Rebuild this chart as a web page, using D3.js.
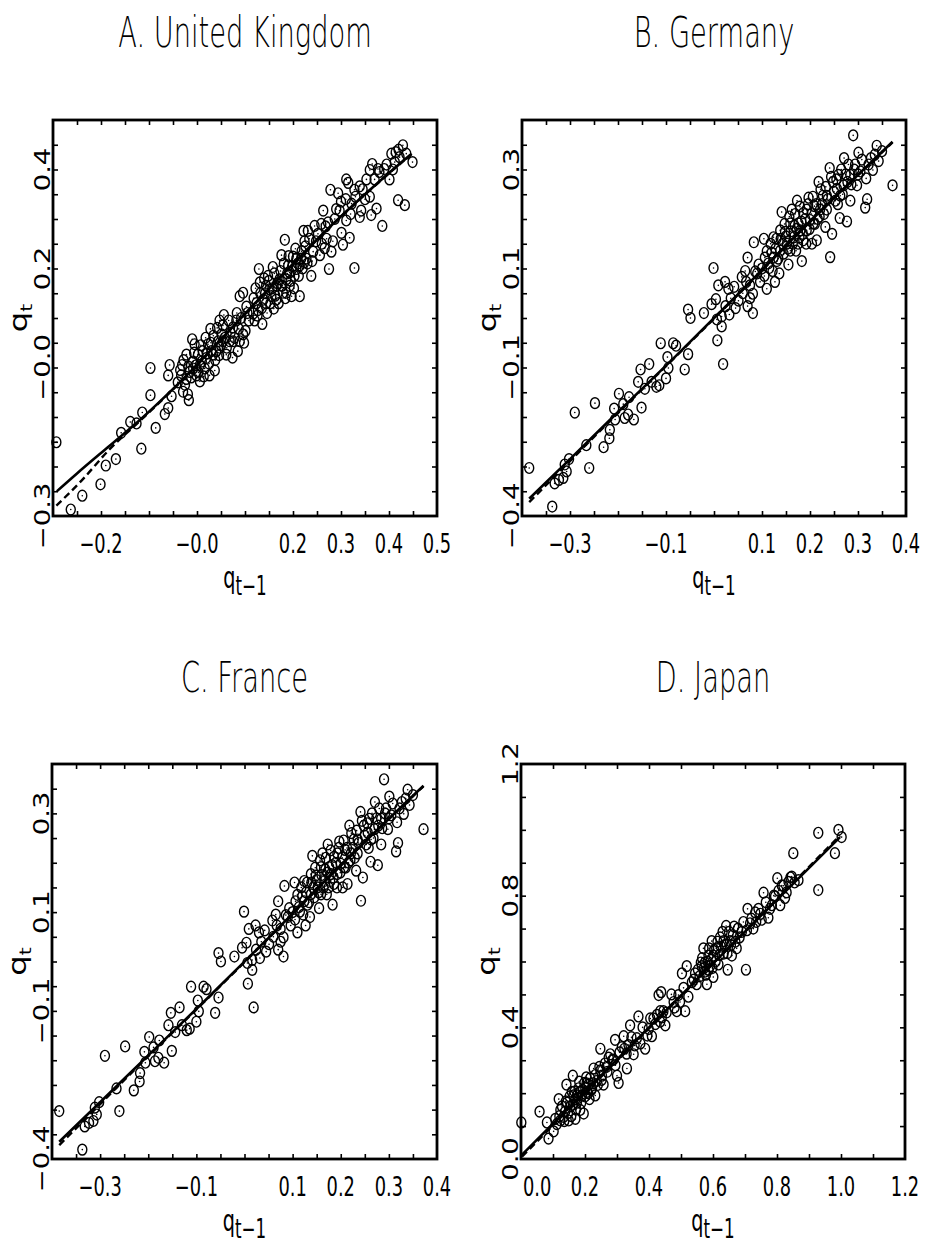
<!DOCTYPE html>
<html>
<head>
<meta charset="utf-8">
<script src="https://cdn.jsdelivr.net/npm/d3@7"></script>
<style>
  body { margin: 0; background: #fff; }
  text { font-family: "DejaVu Sans", sans-serif; fill: #000; }
</style>
</head>
<body>
<svg id="chart" width="925" height="1253"></svg>
<script>
// scatter points [q(t-1), q(t)]
const ukPoints = [
  [-0.293,-0.151],[-0.263,-0.287],[-0.239,-0.259],[-0.201,-0.236],[-0.190,-0.198],[-0.169,-0.185],
  [-0.158,-0.132],[-0.139,-0.110],[-0.126,-0.113],[-0.114,-0.091],[-0.116,-0.164],[-0.097,-0.001],
  [-0.097,-0.056],[-0.086,-0.122],[-0.067,-0.094],[-0.060,-0.082],[-0.060,-0.016],[-0.057,0.005],
  [-0.053,-0.058],[-0.029,-0.049],[-0.019,-0.054],[-0.017,-0.066],[-0.031,0.005],[-0.033,-0.016],
  [-0.022,-0.023],[-0.022,0.026],[-0.010,0.057],[-0.008,0.012],[-0.001,-0.016],[0.006,-0.028],
  [0.002,0.026],[0.012,0.033],[0.016,-0.002],[0.023,0.047],[0.028,0.078],[0.033,0.026],
  [0.037,-0.006],[0.044,0.053],[0.047,0.095],[0.051,0.067],[0.056,0.106],[0.061,0.026],
  [0.068,0.053],[0.074,0.020],[0.075,0.081],[0.082,0.095],[0.085,0.033],[0.089,0.053],
  [0.096,0.067],[0.101,0.074],[0.089,0.144],[0.096,0.151],[0.103,0.123],[0.108,0.095],
  [0.120,0.095],[0.124,0.130],[0.129,0.199],[0.131,0.172],[0.136,0.088],[0.138,0.137],
  [0.144,0.165],[0.148,0.185],[0.155,0.144],[0.158,0.203],[0.160,0.119],[0.165,0.165],
  [0.172,0.178],[0.176,0.227],[0.179,0.151],[0.183,0.258],[0.186,0.178],[0.190,0.206],
  [0.193,0.165],[0.197,0.144],[0.200,0.224],[0.203,0.185],[0.207,0.199],[0.214,0.144],
  [0.217,0.220],[0.222,0.276],[0.224,0.255],[0.228,0.220],[0.231,0.276],[0.238,0.185],
  [0.242,0.234],[0.245,0.286],[0.256,0.227],[0.259,0.290],[0.263,0.317],[0.266,0.241],
  [0.273,0.293],[0.275,0.199],[0.278,0.359],[0.280,0.234],[0.283,0.255],[0.287,0.300],
  [0.294,0.352],[0.297,0.317],[0.301,0.272],[0.304,0.248],[0.311,0.380],[0.315,0.373],
  [0.311,0.297],[0.318,0.262],[0.322,0.331],[0.328,0.359],[0.328,0.201],[0.339,0.366],
  [0.339,0.304],[0.342,0.317],[0.353,0.380],[0.360,0.399],[0.360,0.345],[0.365,0.411],
  [0.363,0.308],[0.374,0.321],[0.377,0.401],[0.386,0.286],[0.390,0.401],[0.401,0.380],
  [0.405,0.432],[0.412,0.415],[0.414,0.435],[0.419,0.338],[0.422,0.425],[0.429,0.449],
  [0.433,0.328],[0.436,0.432],[0.449,0.415],
  [0.006,0.005],[0.019,0.019],[0.030,0.033],[0.040,0.033],[0.054,0.053],[0.075,0.053],
  [0.117,0.109],[0.127,0.116],[0.144,0.130],[0.151,0.158],[0.165,0.137],[0.176,0.165],
  [0.186,0.151],[0.193,0.192],[0.207,0.220],[0.214,0.206],[0.224,0.213],[-0.008,-0.002],
  [-0.015,-0.009],[0.026,-0.016],[0.047,0.040],[-0.005,0.047],
  // dense lower cluster
  [-0.040,-0.030],[-0.035,-0.005],[-0.028,0.015],[-0.025,-0.035],[-0.018,0.002],[-0.012,-0.020],
  [-0.006,0.030],[-0.003,0.004],[0.003,-0.010],[0.008,0.045],[0.010,0.012],[0.014,-0.018],
  [0.018,0.060],[0.021,0.028],[0.025,0.008],[0.029,0.050],[0.034,0.064],[0.038,0.015],
  [0.042,0.080],[0.046,0.025],[0.050,0.045],[0.054,0.085],[0.058,0.060],[0.062,0.040],
  [0.066,0.095],[0.070,0.070],[0.078,0.060],[0.083,0.110],[0.087,0.078],[0.092,0.100],
  [0.098,0.050],[0.105,0.110],
  // dense upper cluster
  [0.118,0.140],[0.122,0.160],[0.126,0.105],[0.132,0.150],[0.135,0.120],[0.140,0.180],
  [0.142,0.150],[0.146,0.110],[0.150,0.175],[0.153,0.130],[0.157,0.160],[0.161,0.190],
  [0.163,0.145],[0.168,0.170],[0.170,0.130],[0.174,0.195],[0.178,0.165],[0.181,0.210],
  [0.184,0.140],[0.188,0.190],[0.191,0.225],[0.195,0.175],[0.199,0.205],[0.202,0.160],
  [0.205,0.240],[0.210,0.210],[0.212,0.185],[0.218,0.235],[0.220,0.200],[0.226,0.245],
  [0.230,0.210],[0.234,0.260],[0.240,0.215],[0.248,0.255],[0.252,0.270],[0.260,0.250],
  [0.268,0.285],[0.270,0.260],
  [0.290,0.320],[0.300,0.335],[0.310,0.340],[0.320,0.310],[0.330,0.345],[0.345,0.360],
  [0.350,0.340],[0.370,0.380],[0.380,0.395],[0.395,0.410],[0.408,0.400],[0.420,0.440]
];

const germanyPoints = [
  [-0.385,-0.303],[-0.337,-0.381],[-0.332,-0.334],[-0.323,-0.327],[-0.314,-0.323],[-0.307,-0.310],
  [-0.311,-0.296],[-0.302,-0.285],[-0.290,-0.191],[-0.266,-0.257],[-0.260,-0.303],[-0.248,-0.172],
  [-0.230,-0.261],[-0.218,-0.243],[-0.217,-0.226],[-0.206,-0.205],[-0.208,-0.183],[-0.198,-0.153],
  [-0.189,-0.174],[-0.186,-0.202],[-0.179,-0.195],[-0.177,-0.160],[-0.167,-0.205],[-0.158,-0.129],
  [-0.151,-0.181],[-0.153,-0.104],[-0.144,-0.143],[-0.135,-0.093],[-0.130,-0.129],[-0.120,-0.139],
  [-0.114,-0.136],[-0.111,-0.051],[-0.100,-0.122],[-0.097,-0.079],[-0.095,-0.101],[-0.085,-0.051],
  [-0.079,-0.056],[-0.061,-0.104],[-0.054,-0.073],[-0.054,0.017],[-0.049,0.000],[-0.021,0.010],
  [-0.005,0.028],[-0.001,0.101],[0.004,0.038],[0.006,-0.003],[0.007,-0.045],[0.009,0.066],
  [0.016,0.003],[0.016,-0.017],[0.019,-0.093],[0.023,0.073],[0.024,0.024],[0.030,0.059],
  [0.032,0.007],[0.042,0.063],[0.051,0.035],[0.058,0.083],[0.067,0.073],[0.070,0.024],
  [0.070,0.122],[0.075,0.066],[0.081,0.049],[0.081,0.010],[0.083,0.153],[0.086,0.094],
  [0.093,0.108],[0.096,0.073],[0.104,0.160],[0.106,0.122],[0.110,0.059],[0.115,0.101],
  [0.120,0.132],[0.124,0.163],[0.127,0.073],[0.131,0.115],[0.136,0.090],[0.141,0.214],
  [0.143,0.150],[0.148,0.174],[0.155,0.108],[0.159,0.191],[0.162,0.219],[0.166,0.163],
  [0.171,0.136],[0.173,0.237],[0.176,0.191],[0.178,0.163],[0.183,0.115],[0.186,0.212],
  [0.193,0.177],[0.197,0.243],[0.200,0.198],[0.204,0.150],[0.209,0.226],[0.214,0.157],
  [0.218,0.275],[0.220,0.205],[0.227,0.247],[0.232,0.184],[0.235,0.219],[0.241,0.303],
  [0.242,0.123],[0.246,0.170],[0.248,0.275],[0.253,0.237],[0.259,0.289],[0.262,0.202],
  [0.263,0.247],[0.271,0.323],[0.277,0.195],[0.278,0.275],[0.284,0.237],[0.290,0.369],
  [0.294,0.310],[0.298,0.268],[0.301,0.334],[0.305,0.296],[0.315,0.223],[0.319,0.240],
  [0.317,0.282],[0.327,0.323],[0.331,0.299],[0.339,0.348],[0.343,0.317],[0.350,0.337],
  [0.372,0.268],
  [0.138,0.136],[0.152,0.150],[0.168,0.186],[0.180,0.177],[0.186,0.157],[0.207,0.191],
  [0.221,0.219],[0.235,0.247],[0.256,0.261],[0.270,0.268],[0.284,0.289],[0.124,0.122],
  [0.138,0.177],[0.193,0.219],[0.159,0.136],
  // dense cluster
  [0.100,0.100],[0.105,0.085],[0.110,0.135],[0.113,0.110],[0.118,0.150],[0.122,0.095],
  [0.128,0.140],[0.130,0.160],[0.134,0.120],[0.139,0.160],[0.145,0.130],[0.147,0.190],
  [0.150,0.165],[0.154,0.140],[0.157,0.205],[0.160,0.175],[0.164,0.150],[0.169,0.210],
  [0.172,0.180],[0.175,0.150],[0.179,0.225],[0.182,0.195],[0.185,0.170],[0.190,0.200],
  [0.192,0.150],[0.196,0.230],[0.199,0.180],[0.203,0.210],[0.206,0.245],[0.210,0.190],
  [0.213,0.230],[0.216,0.200],[0.222,0.260],[0.225,0.230],[0.229,0.210],[0.233,0.265],
  [0.237,0.240],[0.244,0.285],[0.250,0.255],[0.255,0.280],[0.258,0.230],[0.265,0.300],
  [0.268,0.250],[0.274,0.290],[0.280,0.310],[0.286,0.270],[0.292,0.300],[0.300,0.290],
  [0.308,0.320],[0.322,0.310],[0.335,0.330],[0.035,0.040],[0.045,0.020],[0.060,0.050],
  [0.065,0.095],[0.090,0.090],[0.075,0.040]
];

// the France panel of the printed figure shows the same scatter as Germany
const francePoints = germanyPoints.map(d => d.slice());

const japanPoints = [
  [0.001,0.111],[0.058,0.144],[0.081,0.111],[0.086,0.062],[0.102,0.084],[0.107,0.122],
  [0.112,0.106],[0.118,0.182],[0.123,0.149],[0.133,0.128],[0.142,0.226],[0.144,0.171],
  [0.149,0.117],[0.154,0.160],[0.162,0.253],[0.164,0.193],[0.170,0.122],[0.175,0.171],
  [0.180,0.215],[0.185,0.149],[0.190,0.193],[0.196,0.138],[0.198,0.231],[0.204,0.248],
  [0.206,0.204],[0.214,0.182],[0.222,0.215],[0.227,0.275],[0.232,0.193],[0.237,0.237],
  [0.248,0.335],[0.253,0.253],[0.258,0.226],[0.268,0.280],[0.274,0.308],[0.279,0.318],
  [0.294,0.362],[0.300,0.253],[0.305,0.231],[0.308,0.324],[0.321,0.373],[0.323,0.335],
  [0.331,0.275],[0.336,0.346],[0.341,0.406],[0.352,0.318],[0.362,0.367],[0.367,0.433],
  [0.373,0.351],[0.388,0.335],[0.399,0.395],[0.404,0.427],[0.409,0.373],[0.425,0.438],
  [0.430,0.498],[0.435,0.417],[0.438,0.507],[0.445,0.449],[0.451,0.406],[0.477,0.477],
  [0.487,0.449],[0.492,0.498],[0.497,0.477],[0.503,0.564],[0.508,0.520],[0.513,0.449],
  [0.518,0.586],[0.523,0.493],[0.534,0.537],[0.544,0.564],[0.549,0.531],[0.562,0.597],
  [0.570,0.640],[0.575,0.569],[0.581,0.531],[0.586,0.618],[0.591,0.586],[0.596,0.662],
  [0.601,0.553],[0.610,0.640],[0.617,0.591],[0.622,0.673],[0.633,0.624],[0.641,0.708],
  [0.646,0.575],[0.653,0.662],[0.659,0.618],[0.666,0.706],[0.674,0.640],[0.683,0.673],
  [0.703,0.575],[0.708,0.760],[0.716,0.716],[0.726,0.700],[0.732,0.749],[0.742,0.760],
  [0.752,0.727],[0.758,0.809],[0.773,0.733],[0.784,0.771],[0.794,0.798],[0.801,0.853],
  [0.810,0.771],[0.815,0.831],[0.825,0.793],[0.836,0.842],[0.846,0.858],[0.851,0.929],
  [0.867,0.847],[0.929,0.991],[0.929,0.817],[0.981,0.929],[0.992,1.000],[1.002,0.978],
  [0.159,0.204],[0.175,0.193],[0.185,0.204],[0.201,0.215],[0.211,0.226],[0.170,0.182],
  [0.138,0.144],[0.123,0.117],[0.565,0.586],[0.575,0.597],[0.586,0.575],[0.633,0.662],
  [0.643,0.651],[0.601,0.618],[0.706,0.695],[0.414,0.427],[0.435,0.449],[0.248,0.269],
  [0.289,0.302],
  // dense lower cluster
  [0.120,0.130],[0.128,0.160],[0.135,0.115],[0.140,0.175],[0.147,0.140],[0.152,0.190],
  [0.157,0.130],[0.162,0.165],[0.167,0.205],[0.172,0.150],[0.178,0.185],[0.182,0.235],
  [0.188,0.170],[0.193,0.210],[0.200,0.190],[0.205,0.230],[0.210,0.200],[0.216,0.245],
  [0.220,0.210],[0.226,0.230],[0.232,0.255],[0.240,0.225],[0.245,0.280],[0.252,0.240],
  [0.262,0.290],[0.270,0.265],[0.285,0.300],[0.295,0.285],[0.315,0.340],[0.330,0.320],
  [0.345,0.370],[0.355,0.345],[0.380,0.400],[0.395,0.375],[0.420,0.410],[0.440,0.430],
  [0.455,0.445],[0.470,0.500],[0.480,0.460],
  // dense upper cluster
  [0.540,0.545],[0.553,0.575],[0.558,0.555],[0.566,0.610],[0.572,0.580],[0.578,0.560],
  [0.583,0.600],[0.588,0.640],[0.594,0.605],[0.598,0.580],[0.604,0.635],[0.608,0.600],
  [0.614,0.660],[0.620,0.620],[0.625,0.645],[0.630,0.690],[0.637,0.650],[0.645,0.625],
  [0.650,0.690],[0.656,0.650],[0.662,0.680],[0.670,0.660],[0.678,0.700],[0.690,0.690],
  [0.695,0.720],[0.720,0.730],[0.735,0.720],[0.748,0.745],[0.765,0.780],[0.778,0.760],
  [0.790,0.800],[0.805,0.815],[0.820,0.830],[0.830,0.810],[0.842,0.855],[0.855,0.840]
];

// fitted curves (solid) and second fit (dashed)
const ukSolid  = [[-0.292,-0.250],[-0.25,-0.214],[-0.182,-0.158],[-0.119,-0.106],[-0.036,-0.030],[0.117,0.126],[0.283,0.290],[0.401,0.394],[0.447,0.432]];
const ukDashed = [[-0.293,-0.279],[-0.24,-0.228],[-0.182,-0.165],[-0.119,-0.108],[-0.036,-0.031],[0.117,0.125],[0.283,0.289],[0.401,0.393],[0.447,0.431]];
const geSolid  = [[-0.385,-0.365],[-0.3,-0.285],[-0.2,-0.190],[-0.085,-0.082],[0.05,0.048],[0.2,0.195],[0.372,0.356]];
const geDashed = [[-0.385,-0.372],[-0.3,-0.289],[-0.2,-0.192],[-0.085,-0.083],[0.05,0.047],[0.2,0.194],[0.372,0.355]];
const frSolid  = geSolid.map(d => d.slice());
const frDashed = geDashed.map(d => d.slice());
const jpSolid  = [[0.003,0.013],[0.5,0.497],[0.997,0.978]];
const jpDashed = [[0.003,0.007],[0.5,0.495],[0.997,0.983]];

// tick labels as printed
const ukXTicks = [-0.2, 0, 0.2, 0.3, 0.4, 0.5];
const ukXLabels = ['\u22120.2', '\u22120.0', '0.2', '0.3', '0.4', '0.5'];
const ukYTicks = [-0.3, 0, 0.2, 0.4];
const ukYLabels = ['\u22120.3', '\u22120.0', '0.2', '0.4'];
const geXTicks = [-0.3, -0.1, 0.1, 0.2, 0.3, 0.4];
const geXLabels = ['\u22120.3', '\u22120.1', '0.1', '0.2', '0.3', '0.4'];
const geYTicks = [-0.4, -0.1, 0.1, 0.3];
const geYLabels = ['\u22120.4', '\u22120.1', '0.1', '0.3'];
const jpXTicks = [0, 0.2, 0.4, 0.6, 0.8, 1.0, 1.2];
const jpXLabels = ['0.0', '0.2', '0.4', '0.6', '0.8', '1.0', '1.2'];
const jpYTicks = [0, 0.4, 0.8, 1.2];
const jpYLabels = ['0.0', '0.4', '0.8', '1.2'];

const svg = d3.select('#chart');

const panels = [
  { title: 'A. United Kingdom', points: ukPoints, solid: ukSolid, dashed: ukDashed,
    xDomain: [-0.3, 0.5], yDomain: [-0.3, 0.5], step: 0.05,
    xTicks: ukXTicks, xLabels: ukXLabels, yTicks: ukYTicks, yLabels: ukYLabels,
    left: 53, right: 437, top: 120, bottom: 516, titleY: 47 },
  { title: 'B. Germany', points: germanyPoints, solid: geSolid, dashed: geDashed,
    xDomain: [-0.4, 0.4], yDomain: [-0.4, 0.4], step: 0.05,
    xTicks: geXTicks, xLabels: geXLabels, yTicks: geYTicks, yLabels: geYLabels,
    left: 522, right: 906, top: 120, bottom: 516, titleY: 47 },
  { title: 'C. France', points: francePoints, solid: frSolid, dashed: frDashed,
    xDomain: [-0.4, 0.4], yDomain: [-0.4, 0.4], step: 0.05,
    xTicks: geXTicks, xLabels: geXLabels, yTicks: geYTicks, yLabels: geYLabels,
    left: 52, right: 437, top: 764, bottom: 1159, titleY: 692 },
  { title: 'D. Japan', points: japanPoints, solid: jpSolid, dashed: jpDashed,
    xDomain: [0, 1.2], yDomain: [0, 1.2], step: 0.1,
    xTicks: jpXTicks, xLabels: jpXLabels, yTicks: jpYTicks, yLabels: jpYLabels,
    left: 521, right: 905, top: 764, bottom: 1159, titleY: 692 }
];

function drawPanel(p) {
  const g = svg.append('g');
  const x = d3.scaleLinear().domain(p.xDomain).range([p.left, p.right]);
  const y = d3.scaleLinear().domain(p.yDomain).range([p.bottom, p.top]);
  const cx = (p.left + p.right) / 2;
  const cy = (p.top + p.bottom) / 2;

  // title
  g.append('text')
    .attr('transform', `translate(${cx},${p.titleY}) scale(0.65,1)`)
    .attr('text-anchor', 'middle')
    .attr('font-size', 42)
    .attr('font-weight', 200)
    .text(p.title);

  // inward ticks on all four sides
  const n = Math.round((p.xDomain[1] - p.xDomain[0]) / p.step);
  const tickVals = d3.range(1, n).map(i => p.xDomain[0] + i * p.step);
  const ny = Math.round((p.yDomain[1] - p.yDomain[0]) / p.step);
  const tickValsY = d3.range(1, ny).map(i => p.yDomain[0] + i * p.step);
  const axes = [
    [d3.axisBottom(x).tickValues(tickVals), `translate(0,${p.bottom})`],
    [d3.axisTop(x).tickValues(tickVals), `translate(0,${p.top})`],
    [d3.axisLeft(y).tickValues(tickValsY), `translate(${p.left},0)`],
    [d3.axisRight(y).tickValues(tickValsY), `translate(${p.right},0)`]
  ];
  axes.forEach(([ax, tr]) => {
    const a = g.append('g').attr('transform', tr)
      .call(ax.tickSize(-5).tickFormat(''));
    a.select('.domain').remove();
    a.selectAll('line').attr('stroke', '#000').attr('stroke-width', 1.6);
  });

  // frame
  g.append('rect')
    .attr('x', p.left).attr('y', p.top)
    .attr('width', p.right - p.left).attr('height', p.bottom - p.top)
    .attr('fill', 'none').attr('stroke', '#000').attr('stroke-width', 2.8);

  // x tick labels (narrow face)
  p.xTicks.forEach((v, i) => {
    const atStart = v === p.xDomain[0];
    g.append('text')
      .attr('transform', `translate(${x(v) + (atStart ? 2 : 0)},${p.bottom + 37}) scale(0.66,1)`)
      .attr('text-anchor', atStart ? 'start' : 'middle')
      .attr('font-size', 27)
      .text(p.xLabels[i]);
  });

  // y tick labels, rotated
  p.yTicks.forEach((v, i) => {
    g.append('text')
      .attr('transform', `translate(${p.left - 3},${y(v)}) rotate(-90) scale(1.25,1)`)
      .attr('text-anchor', 'middle')
      .attr('font-size', 22)
      .text(p.yLabels[i]);
  });

  // axis titles
  const yt = g.append('text')
    .attr('transform', `translate(${p.left - 26},${cy}) rotate(-90) scale(1.35,1)`)
    .attr('text-anchor', 'middle')
    .attr('font-size', 24);
  yt.append('tspan').text('q');
  yt.append('tspan').attr('font-size', 15).attr('dy', 5).text('t');

  const xt = g.append('text')
    .attr('transform', `translate(${cx},${p.bottom + 72}) scale(0.62,1)`)
    .attr('text-anchor', 'middle')
    .attr('font-size', 31);
  xt.append('tspan').text('q');
  xt.append('tspan').attr('font-size', 27).attr('dy', 7).text('t\u22121');

  // fitted lines
  const line = d3.line().x(d => x(d[0])).y(d => y(d[1])).curve(d3.curveMonotoneX);
  g.append('path').datum(p.dashed).attr('d', line)
    .attr('fill', 'none').attr('stroke', '#000').attr('stroke-width', 2.4)
    .attr('stroke-dasharray', '7,4');
  g.append('path').datum(p.solid).attr('d', line)
    .attr('fill', 'none').attr('stroke', '#000').attr('stroke-width', 2.6);

  // points: small open ovals with a centre dot
  const pts = g.append('g');
  pts.selectAll('ellipse').data(p.points).join('ellipse')
    .attr('cx', d => x(d[0])).attr('cy', d => y(d[1]))
    .attr('rx', 4.5).attr('ry', 5.4)
    .attr('fill', 'none').attr('stroke', '#000').attr('stroke-width', 1.4);
  pts.selectAll('circle').data(p.points).join('circle')
    .attr('cx', d => x(d[0])).attr('cy', d => y(d[1]))
    .attr('r', 0.8).attr('fill', '#000');
}

panels.forEach(drawPanel);
</script>
</body>
</html>
